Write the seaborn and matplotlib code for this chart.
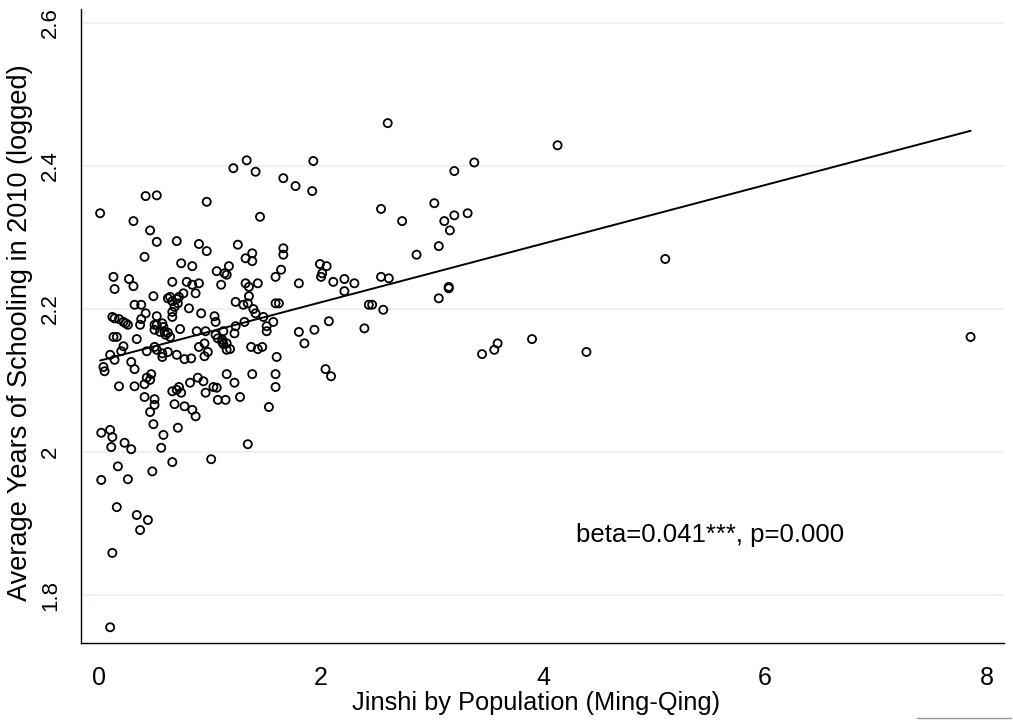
import numpy as np
import pandas as pd
import matplotlib
matplotlib.use("Agg")
import matplotlib.pyplot as plt
from matplotlib.lines import Line2D
import seaborn as sns

# Jinshi per population (Ming-Qing) vs. logged average years of schooling 2010
jinshi = [
    7.85, 5.10, 4.13, 4.39, 3.90, 3.45, 3.56, 3.59,
    2.60, 3.38, 3.20, 2.54, 2.73, 3.02, 3.11, 3.20, 3.32, 3.16, 3.06, 2.86,
    2.54, 2.61, 3.15, 3.15, 3.06, 2.56, 2.43, 2.46,
    1.21, 1.33, 1.41, 1.66, 1.77, 1.92, 1.93, 1.45, 1.25, 1.32, 1.38, 1.38,
    1.17, 1.66, 1.66, 1.64, 1.59, 1.99, 2.05, 2.01, 2.00,
    1.32, 1.35, 1.43, 1.80, 2.11, 2.21, 2.30, 2.21, 1.35, 1.34, 1.23, 1.30,
    1.59, 1.62, 1.39, 1.41, 1.48, 1.57, 1.51, 1.51, 1.31, 1.23, 1.22, 1.12,
    1.11, 1.12, 1.18, 1.80, 1.94, 2.07, 1.85, 2.39, 1.37, 1.43, 1.47, 1.60,
    1.15, 1.22, 1.38, 1.59, 1.59, 2.04, 2.09, 1.27, 1.53, 1.34,
    0.42, 0.52, 0.97, 0.01, 0.31, 0.46, 0.52, 0.70, 0.90, 0.97, 0.41, 0.74,
    0.84, 1.06, 1.13, 1.15, 0.13, 0.27,
    0.14, 0.31, 0.66, 0.79, 0.84, 0.90, 0.87, 1.10, 0.49, 0.62, 0.64, 0.66,
    0.70, 0.72, 0.76, 0.71, 0.68, 0.66, 0.66, 0.32, 0.38, 0.42, 0.81, 0.92,
    1.04, 1.05,
    0.12, 0.14, 0.18, 0.22, 0.24, 0.26, 0.38, 0.37,
    0.52, 0.50, 0.52, 0.57, 0.58, 0.55, 0.50, 0.59, 0.60, 0.64, 0.62, 0.73,
    0.88, 0.96, 1.05, 1.07, 1.11, 1.15,
    0.13, 0.16, 0.34, 0.22, 0.20, 0.10, 0.14,
    0.43, 0.50, 0.52, 0.57, 0.57, 0.62, 0.70, 0.77, 0.83, 0.90, 0.95, 0.98,
    0.95, 1.15,
    0.04, 0.05, 0.29, 0.32, 0.47, 0.43, 0.46, 0.89, 0.94, 0.18, 0.32, 0.41,
    0.66, 0.70, 0.72, 0.74, 0.82, 1.03, 1.06, 0.96, 1.07, 1.14, 0.41, 0.50,
    0.50, 0.46, 0.68, 0.77, 0.84, 0.87, 0.49, 0.02, 0.10, 0.12, 0.58, 0.71,
    0.23, 0.11, 0.29, 0.56,
    1.01, 0.66, 0.17, 0.48, 0.02, 0.26, 0.16, 0.34, 0.44, 0.37, 0.12, 0.10,
]
schooling = [
    2.161, 2.270, 2.429, 2.140, 2.158, 2.137, 2.143, 2.152,
    2.460, 2.405, 2.393, 2.340, 2.323, 2.348, 2.323, 2.331, 2.334, 2.310, 2.288, 2.276,
    2.245, 2.243, 2.231, 2.229, 2.215, 2.199, 2.206, 2.206,
    2.397, 2.408, 2.392, 2.383, 2.372, 2.365, 2.407, 2.329, 2.290, 2.271, 2.278, 2.267,
    2.260, 2.285, 2.276, 2.255, 2.245, 2.263, 2.260, 2.250, 2.245,
    2.236, 2.231, 2.236, 2.236, 2.238, 2.242, 2.236, 2.225, 2.218, 2.208, 2.210, 2.206,
    2.208, 2.208, 2.200, 2.194, 2.189, 2.182, 2.176, 2.169, 2.182, 2.176, 2.166, 2.169,
    2.157, 2.151, 2.144, 2.168, 2.171, 2.183, 2.152, 2.173, 2.147, 2.144, 2.147, 2.133,
    2.109, 2.097, 2.109, 2.109, 2.091, 2.116, 2.106, 2.077, 2.063, 2.011,
    2.358, 2.359, 2.350, 2.334, 2.323, 2.310, 2.294, 2.295, 2.291, 2.281, 2.273, 2.264,
    2.260, 2.253, 2.250, 2.248, 2.245, 2.242,
    2.228, 2.232, 2.238, 2.238, 2.234, 2.236, 2.222, 2.234, 2.218, 2.215, 2.217, 2.211,
    2.214, 2.217, 2.222, 2.208, 2.203, 2.196, 2.189, 2.206, 2.206, 2.194, 2.201, 2.194,
    2.190, 2.182,
    2.189, 2.187, 2.186, 2.182, 2.180, 2.178, 2.186, 2.178,
    2.190, 2.178, 2.178, 2.180, 2.175, 2.168, 2.171, 2.168, 2.164, 2.161, 2.167, 2.172,
    2.169, 2.169, 2.164, 2.159, 2.154, 2.152,
    2.161, 2.161, 2.158, 2.148, 2.141, 2.136, 2.129,
    2.141, 2.147, 2.143, 2.138, 2.133, 2.140, 2.136, 2.130, 2.131, 2.147, 2.152, 2.140,
    2.134, 2.143,
    2.119, 2.113, 2.126, 2.116, 2.109, 2.104, 2.101, 2.104, 2.099, 2.092, 2.092, 2.095,
    2.085, 2.087, 2.091, 2.083, 2.097, 2.091, 2.090, 2.083, 2.073, 2.073, 2.077, 2.074,
    2.066, 2.056, 2.067, 2.064, 2.059, 2.050, 2.039, 2.027, 2.031, 2.021, 2.024, 2.034,
    2.013, 2.007, 2.004, 2.006,
    1.990, 1.986, 1.980, 1.973, 1.961, 1.962, 1.923, 1.912, 1.905, 1.891, 1.859, 1.755,
]
x_ticks = [0, 2, 4, 6, 8]
y_ticks = [1.8, 2.0, 2.2, 2.4, 2.6]
y_ticklabels = ["1.8", "2", "2.2", "2.4", "2.6"]
note = "beta=0.041***, p=0.000"

df = pd.DataFrame({"jinshi": jinshi, "schooling": schooling})

sns.set_style("white")
plt.rcParams["font.family"] = ["Liberation Sans", "DejaVu Sans"]
for key in ["text.color", "axes.labelcolor", "xtick.color", "ytick.color"]:
    plt.rcParams[key] = "black"

fig = plt.figure(figsize=(10.13, 7.25), dpi=100, facecolor="white")
ax = fig.add_axes([0.080, 0.1131, 0.911, 0.8745])

sns.scatterplot(data=df, x="jinshi", y="schooling", ax=ax, marker="o", s=34,
                facecolors="none", edgecolor="black", linewidth=1.3, zorder=3)
sns.regplot(data=df, x="jinshi", y="schooling", ax=ax, scatter=False, ci=None,
            truncate=True, line_kws={"color": "black", "lw": 1.4, "zorder": 4})

ax.set_xlim(-0.162, 8.15)
ax.set_ylim(1.733, 2.6196)
ax.set_xticks(x_ticks)
ax.set_yticks(y_ticks)
ax.set_yticklabels(y_ticklabels, rotation=90, va="center")
ax.tick_params(axis="both", direction="out", length=5.8, width=1.0,
               color="black", labelcolor="black")
ax.tick_params(axis="x", pad=10.5, labelsize=18)
ax.tick_params(axis="y", pad=8.5, labelsize=16)
ax.yaxis.grid(True, color="#eaf2f3", lw=1.5, zorder=0)
ax.xaxis.grid(False)
for side in ["top", "right"]:
    ax.spines[side].set_visible(False)
for side in ["left", "bottom"]:
    ax.spines[side].set_color("black")
    ax.spines[side].set_linewidth(1.0)

ax.set_xlabel("Jinshi by Population (Ming-Qing)", fontsize=18.3, va="center", color="black")
ax.set_ylabel("Average Years of Schooling in 2010 (logged)", fontsize=19.5, va="center",
              color="black")
ax.xaxis.set_label_coords(0.493, -0.094)
ax.yaxis.set_label_coords(-0.0661, 0.489)

ax.text(4.30, 1.8746, note, fontsize=18.5, ha="left", va="baseline", color="black")

# small grey stroke in the lower right corner of the original export
fig.add_artist(Line2D([0.905, 0.998], [0.0097, 0.0097], color="#9a9a9a", lw=1.0))

fig.savefig("out.png", dpi=100, facecolor="white")
